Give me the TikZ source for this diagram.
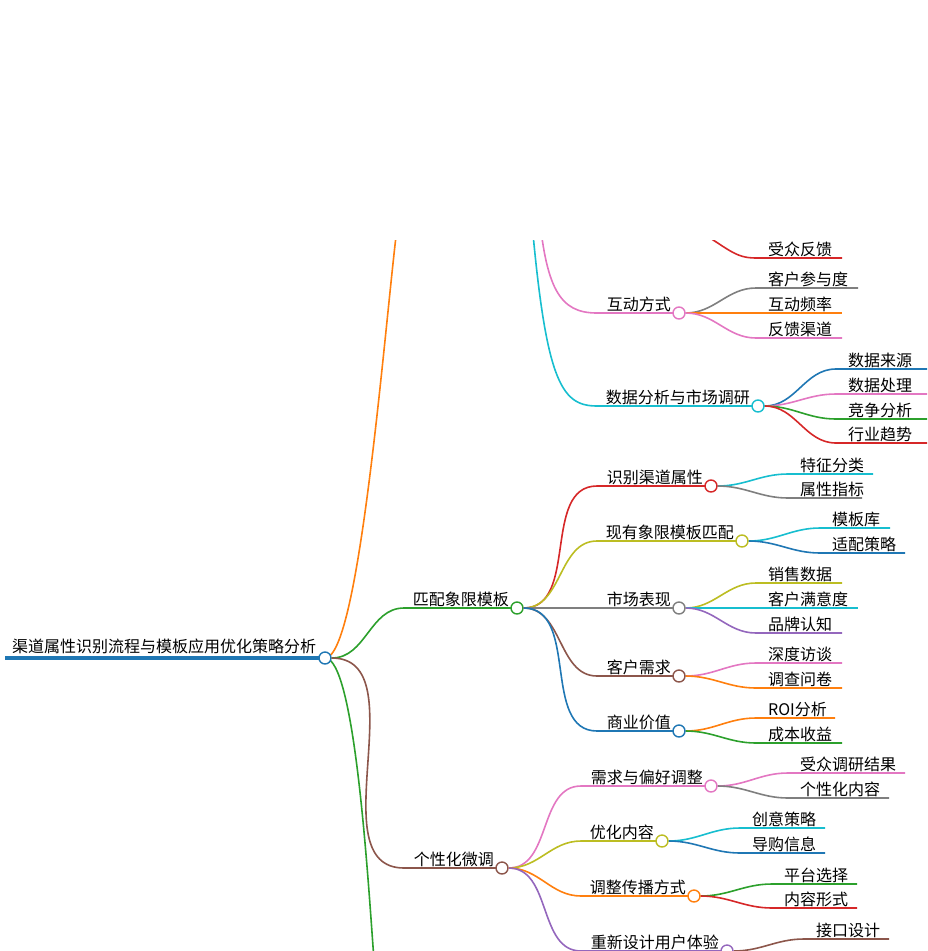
\documentclass[tikz,border=0pt]{standalone}
\usepackage{fontspec}
\setmainfont{Noto Sans CJK SC}
\definecolor{cR}{HTML}{D62728}\definecolor{cO}{HTML}{FF7F0E}\definecolor{cG}{HTML}{2CA02C}
\definecolor{cB}{HTML}{1F77B4}\definecolor{cP}{HTML}{E377C2}\definecolor{cY}{HTML}{7F7F7F}
\definecolor{cL}{HTML}{BCBD22}\definecolor{cC}{HTML}{17BECF}\definecolor{cU}{HTML}{9467BD}
\definecolor{cN}{HTML}{8C564B}
\tikzset{
 lbl/.style={inner sep=0pt,font=\fontsize{16}{18}\selectfont},
 dot/.style={circle,draw=#1,fill=white,line width=1.4pt,minimum size=12pt,inner sep=0pt},
 br/.style={draw=#1,line width=1.6pt}
}
\newcommand{\mnode}[7]{%
 \coordinate (#3s) at (#4-10,#5);
 \draw[br=#1] (#2) to[out=0,in=180] (#3s) -- (#6,#5);
 \node[lbl,anchor=base east] (#3t) at (#6-8,#5-3) {#7};
 \node[dot=#1] (#3) at (#6,#5) {};}
\newcommand{\lnode}[7]{%
 \coordinate (#3s) at (#4-12,#5);
 \coordinate (#3e) at (#6,#5);
 \begin{pgfonlayer}{background}\draw[br=#1] (#2) to[out=0,in=180] (#3s) -- (#3e);\end{pgfonlayer}
 \node[lbl,anchor=base west] (#3) at (#4,#5-3) {#7};}
\pgfdeclarelayer{background}\pgfsetlayers{background,main}
\begin{document}
\begin{tikzpicture}[x=1pt,y=-1pt]
\useasboundingbox (0,0) rectangle (927,951);
\clip (0,240) rectangle (927,951);
\coordinate (rs) at (5,658);
\node[lbl,anchor=base west] (roott) at (12,652) {渠道属性识别流程与模板应用优化策略分析};
\draw[cB,line width=3.5pt] (rs) -- (325,658);
\coordinate (topO) at (398,220);
\coordinate (botG) at (374,960);
\draw[br=cO] (325,658) .. controls (360,658) and (385,320) .. (topO);
\draw[br=cG] (325,658) .. controls (355,658) and (368,880) .. (botG);
\coordinate (pTop) at (538,200);
\coordinate (cTop) at (530,200);
\coordinate (rTop) at (690,225);
\node[dot=cB] (root) at (325,658) {};
\mnode{cG}{root}{m1}{414}{608}{517}{匹配象限模板}
\mnode{cN}{root}{m2}{414}{868}{502}{个性化微调}
\draw[br=cP] (pTop) .. controls (545,290) and (560,313) .. (597,313);
\draw[br=cC] (cTop) .. controls (545,380) and (560,406) .. (597,406);
\mnode{cP}{597,313}{a1}{607}{313}{679}{互动方式}
\mnode{cC}{597,406}{a2}{607}{406}{758}{数据分析与市场调研}
\coordinate (sze) at (842,258);
\draw[br=cR] (rTop) .. controls (730,250) and (735,258) .. (756,258) -- (sze);
\node[lbl,anchor=base west] (sz) at (768,255) {受众反馈};
\lnode{cY}{a1}{a11}{768}{288}{858}{客户参与度}
\lnode{cO}{a1}{a12}{768}{313}{842}{互动频率}
\lnode{cP}{a1}{a13}{768}{338}{842}{反馈渠道}
\lnode{cB}{a2}{a21}{848}{369}{927}{数据来源}
\lnode{cP}{a2}{a22}{848}{394}{927}{数据处理}
\lnode{cG}{a2}{a23}{848}{419}{927}{竞争分析}
\lnode{cR}{a2}{a24}{848}{443}{927}{行业趋势}
\mnode{cR}{m1}{b1}{607}{486}{711}{识别渠道属性}
\mnode{cL}{m1}{b2}{607}{541}{742}{现有象限模板匹配}
\mnode{cY}{m1}{b3}{607}{608}{679}{市场表现}
\mnode{cN}{m1}{b4}{607}{676}{679}{客户需求}
\mnode{cB}{m1}{b5}{607}{731}{679}{商业价值}
\lnode{cC}{b1}{b11}{800}{474}{873}{特征分类}
\lnode{cY}{b1}{b12}{800}{498}{862}{属性指标}
\lnode{cC}{b2}{b21}{832}{528}{890}{模板库}
\lnode{cB}{b2}{b22}{832}{553}{905}{适配策略}
\lnode{cL}{b3}{b31}{768}{583}{842}{销售数据}
\lnode{cC}{b3}{b32}{768}{608}{858}{客户满意度}
\lnode{cU}{b3}{b33}{768}{633}{842}{品牌认知}
\lnode{cP}{b4}{b41}{768}{663}{842}{深度访谈}
\lnode{cO}{b4}{b42}{768}{688}{842}{调查问卷}
\lnode{cO}{b5}{b51}{768}{718}{835}{ROI分析}
\lnode{cG}{b5}{b52}{768}{743}{842}{成本收益}
\mnode{cP}{m2}{c1}{591}{786}{711}{需求与偏好调整}
\mnode{cL}{m2}{c2}{591}{841}{662}{优化内容}
\mnode{cO}{m2}{c3}{591}{896}{694}{调整传播方式}
\mnode{cU}{m2}{c4}{591}{951}{727}{重新设计用户体验}
\lnode{cP}{c1}{c11}{800}{773}{905}{受众调研结果}
\lnode{cY}{c1}{c12}{800}{798}{889}{个性化内容}
\lnode{cC}{c2}{c21}{752}{828}{825}{创意策略}
\lnode{cB}{c2}{c22}{752}{853}{825}{导购信息}
\lnode{cG}{c3}{c31}{784}{884}{857}{平台选择}
\lnode{cR}{c3}{c32}{784}{908}{857}{内容形式}
\lnode{cN}{c4}{c41}{816}{939}{889}{接口设计}
\end{tikzpicture}
\end{document}
